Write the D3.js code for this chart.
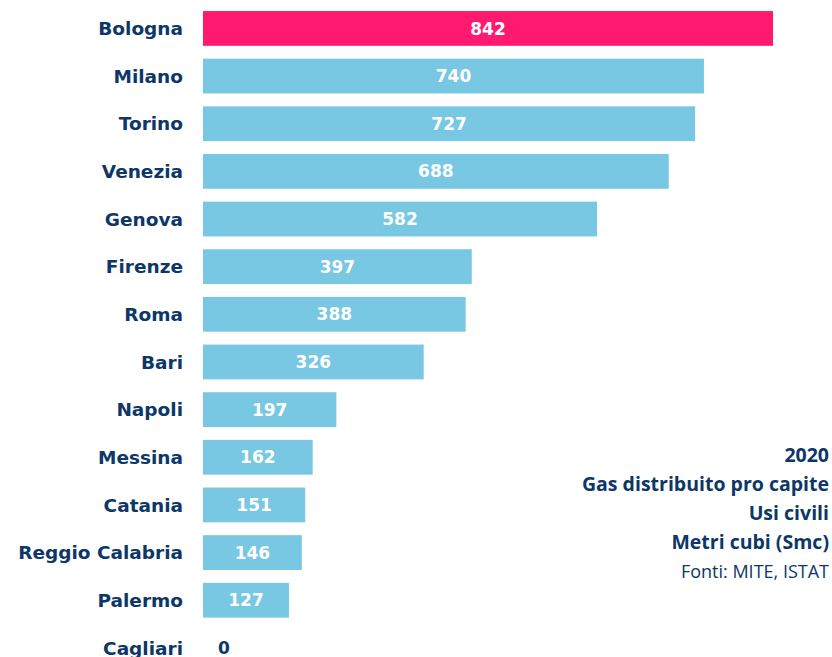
<!DOCTYPE html>
<html>
<head>
<meta charset="utf-8">
<script src="https://cdn.jsdelivr.net/npm/d3@7"></script>
<style>
  body { margin: 0; background: #fff; }
</style>
</head>
<body>
<div id="chart-area"></div>
<script>
// gas distribuito pro capite, 2020
var cities = ["Bologna", "Milano", "Torino", "Venezia", "Genova", "Firenze", "Roma",
  "Bari", "Napoli", "Messina", "Catania", "Reggio Calabria", "Palermo", "Cagliari"]
var values = [842, 740, 727, 688, 582, 397, 388, 326, 197, 162, 151, 146, 127, 0]
var highlight = ["Bologna"]
var notes = ["2020", "Gas distribuito pro capite", "Usi civili", "Metri cubi (Smc)", "Fonti: MITE, ISTAT"]

var navy = "#0c3767"
var pink = "#ff1a6f"
var blue = "#78c8e3"

var svg = d3.select("#chart-area")
  .append("svg")
  .attr("width", 832)
  .attr("height", 657)

var data = cities.map(function(c, i) { return { name: c, value: values[i] } })

var x = d3.scaleLinear()
  .domain([0, d3.max(values)])
  .range([203, 773])

var y = d3.scaleBand()
  .domain(cities)
  .range([4.6, 671.7])
  .paddingInner(0.27)
  .paddingOuter(0.135)

svg.selectAll("rect.bar")
  .data(data)
  .enter()
  .append("rect")
  .attr("class", "bar")
  .attr("x", x(0))
  .attr("y", function(d) { return y(d.name) })
  .attr("width", function(d) { return x(d.value) - x(0) })
  .attr("height", y.bandwidth())
  .attr("fill", function(d) { return highlight.indexOf(d.name) >= 0 ? pink : blue })

// category labels
svg.selectAll("text.cat")
  .data(data)
  .enter()
  .append("text")
  .attr("class", "cat")
  .attr("x", 183)
  .attr("y", function(d) { return y(d.name) + y.bandwidth() / 2 })
  .attr("dy", "0.36em")
  .attr("text-anchor", "end")
  .attr("font-family", "'DejaVu Sans', sans-serif")
  .attr("font-weight", "bold")
  .attr("font-size", 18.5)
  .attr("fill", navy)
  .text(function(d) { return d.name })

// value labels
svg.selectAll("text.val")
  .data(data)
  .enter()
  .append("text")
  .attr("class", "val")
  .attr("x", function(d) { return d.value > 0 ? (x(0) + x(d.value)) / 2 : x(0) + 21 })
  .attr("y", function(d) { return y(d.name) + y.bandwidth() / 2 })
  .attr("dy", "0.36em")
  .attr("text-anchor", "middle")
  .attr("font-family", "'DejaVu Sans', sans-serif")
  .attr("font-weight", "bold")
  .attr("font-size", 17)
  .attr("fill", function(d) { return d.value > 0 ? "#fff" : navy })
  .text(function(d) { return d.value })

// note block
svg.selectAll("text.note")
  .data(notes)
  .enter()
  .append("text")
  .attr("class", "note")
  .attr("x", 829)
  .attr("y", function(d, i) { return 462 + i * 29 })
  .attr("text-anchor", "end")
  .attr("font-family", "'Open Sans', sans-serif")
  .attr("font-weight", function(d, i) { return i < notes.length - 1 ? "bold" : "normal" })
  .attr("font-size", function(d, i) { return i < notes.length - 1 ? 19.5 : 18 })
  .attr("fill", navy)
  .text(function(d) { return d })
</script>
</body>
</html>
